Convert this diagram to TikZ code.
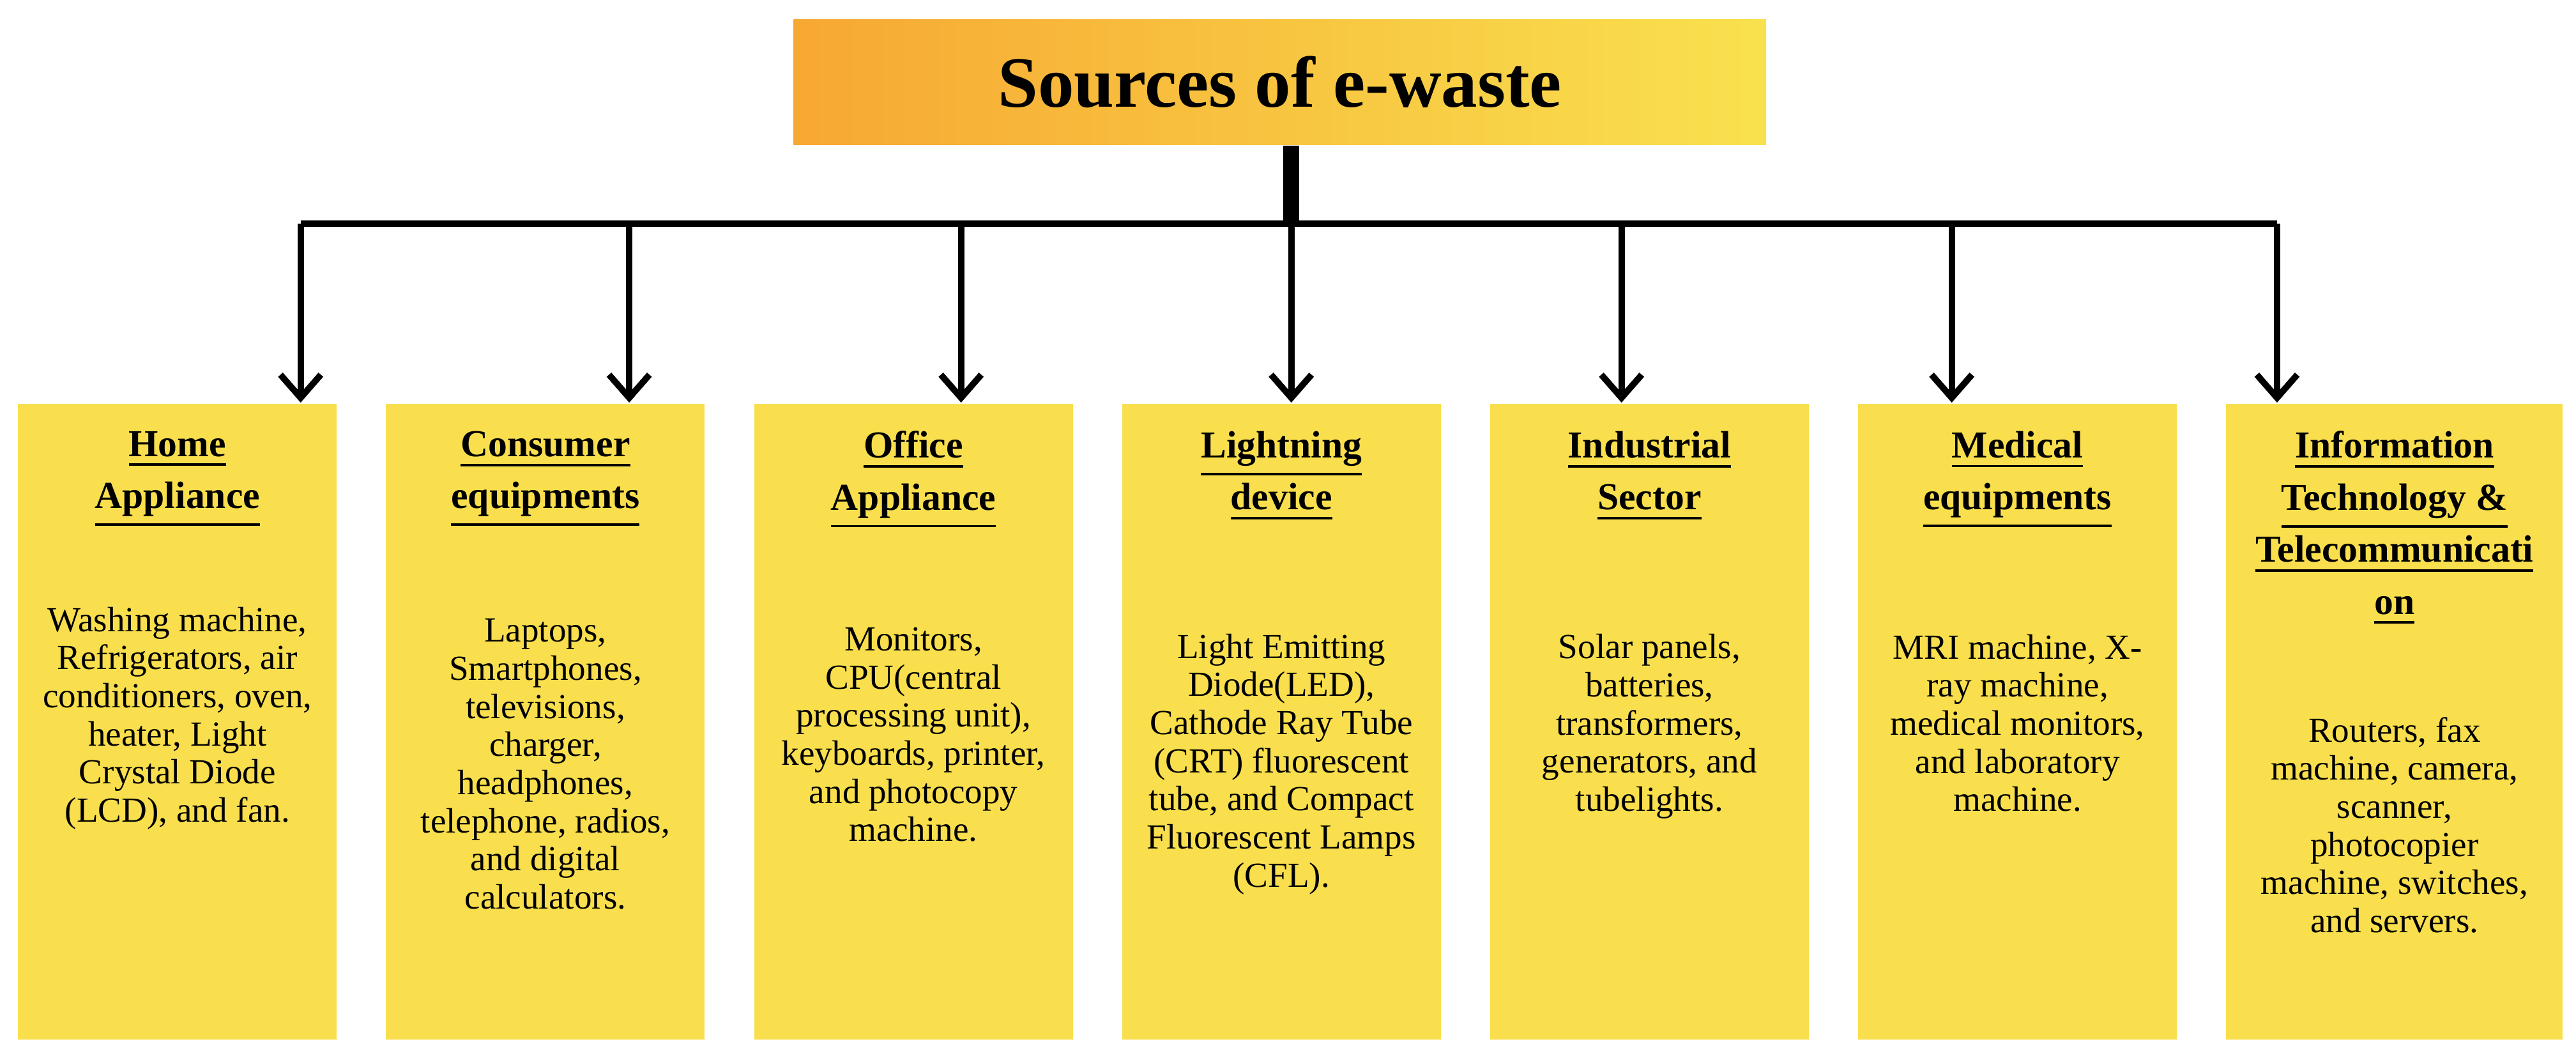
\documentclass[tikz,border=0pt]{standalone}
\usepackage{fontspec}
\setmainfont{Liberation Serif}
\usetikzlibrary{arrows.meta,positioning}
\definecolor{boxyellow}{HTML}{F9DF4D}
\definecolor{titleorange}{HTML}{F7A833}
\definecolor{titleyellow}{HTML}{F9E14E}
\tikzset{source box/.style={fill=boxyellow,draw=none,minimum width=1.94cm,minimum height=3.87cm,anchor=north},
    head text/.style={align=center,font=\fontsize{6.6}{9}\selectfont\bfseries,anchor=north},
    body text/.style={align=center,font=\fontsize{6.1}{6.6}\selectfont},
    feed/.style={draw,line width=1.1pt,-{Straight Barb[length=4pt,width=7pt]}},
    level distance=1.2cm}

\begin{document}
\begin{tikzpicture}[]
            \useasboundingbox (0,0) rectangle (15.68,-6.45);
            \node[minimum width=5.92cm,minimum height=0.76cm,left color=titleorange,right color=titleyellow,
                font=\fontsize{12.5}{15}\selectfont\bfseries] (title) at (7.79,-0.50) {Sources of e-waste};
            \coordinate (stem) at (7.86,-1.36);
            \draw[line width=2.8pt] (title.south -| stem) -- (stem);
            % boxes
            \node[source box] (home) at (1.08,-2.45) {};
            \node[source box] (consumer) at (3.32,-2.45) {};
            \node[source box] (office) at (5.56,-2.45) {};
            \node[source box] (light) at (7.80,-2.45) {};
            \node[source box] (industry) at (10.04,-2.45) {};
            \node[source box] (medical) at (12.28,-2.45) {};
            \node[source box,minimum width=2.05cm] (infotech) at (14.575,-2.45) {};
            % headings
            \node[head text] (homeh) at (1.08,-2.50) {\underline{Home}\\\underline{Appliance}};
            \node[head text] (consumerh) at (3.32,-2.50) {\underline{Consumer}\\\underline{equipments}};
            \node[head text] (officeh) at (5.56,-2.50) {\underline{Office}\\\underline{Appliance}};
            \node[head text] (lighth) at (7.80,-2.50) {\underline{Lightning}\\\underline{device}};
            \node[head text] (industryh) at (10.04,-2.50) {\underline{Industrial}\\\underline{Sector}};
            \node[head text] (medicalh) at (12.28,-2.50) {\underline{Medical}\\\underline{equipments}};
            \node[head text] (infotechh) at (14.575,-2.50) {\underline{Information}\\\underline{Technology \&}\\\underline{Telecommunicati}\\\underline{on}};
            % contents
            \node[body text] (homeb) at (1.08,-4.37) {Washing machine,\\Refrigerators, air\\conditioners, oven,\\heater, Light\\Crystal Diode\\(LCD), and fan.};
            \node[body text] (consumerb) at (3.32,-4.65) {Laptops,\\Smartphones,\\televisions,\\charger,\\headphones,\\telephone, radios,\\and digital\\calculators.};
            \node[body text] (officeb) at (5.56,-4.47) {Monitors,\\CPU(central\\processing unit),\\keyboards, printer,\\and photocopy\\machine.};
            \node[body text] (lightb) at (7.80,-4.65) {Light Emitting\\Diode(LED),\\Cathode Ray Tube\\(CRT) fluorescent\\tube, and Compact\\Fluorescent Lamps\\(CFL).};
            \node[body text] (industryb) at (10.04,-4.42) {Solar panels,\\batteries,\\transformers,\\generators, and\\tubelights.};
            \node[body text] (medicalb) at (12.28,-4.40) {MRI machine, X-\\ray machine,\\medical monitors,\\and laboratory\\machine.};
            \node[body text] (infotechb) at (14.575,-5.02) {Routers, fax\\machine, camera,\\scanner,\\photocopier\\machine, switches,\\and servers.};
            % connectors
            \foreach \src/\x in {home/1.83,consumer/3.83,office/5.85,light/7.86,industry/9.87,medical/11.88,infotech/13.86}
                \coordinate (\src bus) at (\x,-1.36);
            \draw[line width=1.1pt] (homebus) -- (infotechbus);
            \foreach \src/\x in {home/1.83,consumer/3.83,office/5.85,light/7.86,industry/9.87,medical/11.88,infotech/13.86}
                \draw[feed] (\src bus) -- (\src bus |- \src.north);
        \end{tikzpicture}
\end{document}
